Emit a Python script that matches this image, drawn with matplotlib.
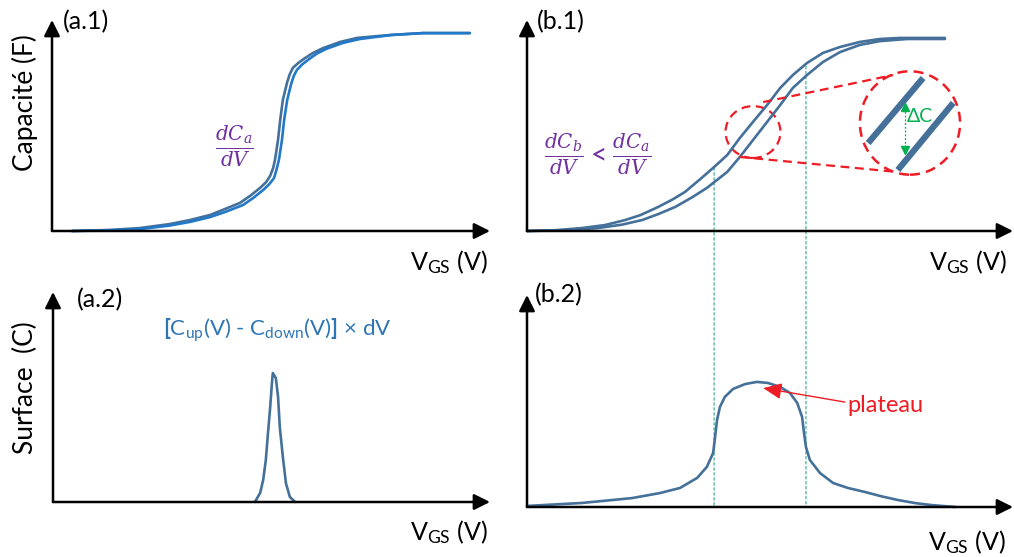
import matplotlib
matplotlib.use("Agg")
import matplotlib.pyplot as plt
from matplotlib.patches import Ellipse, ConnectionPatch

plt.rcParams['font.family'] = ['Lato', 'DejaVu Sans']
plt.rcParams['mathtext.fontset'] = 'custom'
plt.rcParams['mathtext.rm'] = 'Lato'
plt.rcParams['mathtext.it'] = 'DejaVu Serif:italic'
plt.rcParams['mathtext.bf'] = 'Lato:bold'

# ---------------- data (V in 0..10 arbitrary, C / surface in 0..1 arbitrary) -------------
# (a.1) narrow hysteresis C-V curves
a1_up_v = [0.46, 1.32, 2.01, 2.69, 3.15, 3.61, 3.90, 4.29, 4.52, 4.75, 4.89, 4.98, 5.05, 5.09, 5.16, 5.21,
           5.27, 5.37, 5.43, 5.50, 5.62, 5.78, 5.96, 6.19, 6.58, 6.96, 7.72, 8.47, 9.54]
a1_up_c = [0.0, 0.005, 0.014, 0.033, 0.052, 0.076, 0.100, 0.133, 0.166, 0.204, 0.232, 0.261, 0.299, 0.336,
           0.431, 0.526, 0.621, 0.706, 0.744, 0.773, 0.796, 0.820, 0.844, 0.867, 0.896, 0.915, 0.929, 0.938, 0.938]
a1_dn_v = [0.46, 1.32, 2.01, 2.69, 3.15, 3.61, 3.95, 4.36, 4.59, 4.82, 4.96, 5.07, 5.13, 5.18, 5.25, 5.30,
           5.37, 5.46, 5.52, 5.59, 5.71, 5.87, 6.04, 6.26, 6.65, 7.03, 7.76, 8.47, 9.54]
a1_dn_c = [0.0, 0.003, 0.009, 0.026, 0.043, 0.066, 0.090, 0.123, 0.156, 0.194, 0.222, 0.251, 0.294, 0.336,
           0.431, 0.526, 0.621, 0.697, 0.735, 0.763, 0.789, 0.815, 0.840, 0.863, 0.892, 0.910, 0.929, 0.938, 0.938]

# (a.2) narrow surface peak
a2_v = [4.62, 4.74, 4.81, 4.87, 4.92, 4.97, 5.01, 5.03, 5.10, 5.15, 5.19, 5.26, 5.33, 5.42, 5.54]
a2_s = [0.0, 0.043, 0.105, 0.200, 0.329, 0.452, 0.567, 0.614, 0.590, 0.500, 0.357, 0.214, 0.090, 0.024, 0.0]

# (b.1) wide hysteresis C-V curves
b1_up_v = [0.0, 0.60, 1.13, 1.60, 2.02, 2.33, 2.70, 3.00, 3.25, 3.56, 3.83, 4.12, 4.38, 4.65, 4.94, 5.21,
           5.47, 5.76, 6.09, 6.44, 6.85, 7.26, 7.67, 8.09, 8.60]
b1_up_c = [0.0, 0.004, 0.014, 0.028, 0.052, 0.075, 0.114, 0.150, 0.185, 0.245, 0.299, 0.360, 0.441, 0.517,
           0.597, 0.678, 0.739, 0.796, 0.844, 0.872, 0.896, 0.910, 0.915, 0.915, 0.915]
b1_dn_v = [0.0, 0.80, 1.46, 1.95, 2.37, 2.70, 3.05, 3.40, 3.70, 4.12, 4.38, 4.65, 4.94, 5.21, 5.47, 5.76,
           6.09, 6.44, 6.85, 7.26, 7.82, 8.60]
b1_dn_c = [0.0, 0.004, 0.014, 0.030, 0.052, 0.080, 0.114, 0.160, 0.204, 0.280, 0.351, 0.431, 0.517, 0.597,
           0.678, 0.739, 0.801, 0.848, 0.882, 0.900, 0.910, 0.910]

# (b.2) surface with plateau
b2_v = [0.0, 1.13, 2.16, 2.74, 3.15, 3.50, 3.70, 3.83, 3.87, 3.91, 3.97, 4.07, 4.24, 4.49, 4.73, 4.96,
        5.21, 5.41, 5.56, 5.66, 5.70, 5.74, 5.82, 6.03, 6.30, 6.60, 6.95, 7.30, 7.63, 8.00, 8.33, 8.81]
b2_s = [0.005, 0.019, 0.042, 0.066, 0.090, 0.137, 0.189, 0.255, 0.330, 0.410, 0.472, 0.519, 0.557, 0.580,
        0.590, 0.585, 0.566, 0.538, 0.491, 0.425, 0.349, 0.283, 0.222, 0.160, 0.113, 0.090, 0.071, 0.050,
        0.033, 0.018, 0.009, 0.0]

# guide lines (V position, top C on b.1)
guide_v = [3.85, 5.74]
guide_top = [0.30, 0.78]

# zoom inset elements (b.1 data units)
seg1_v, seg1_c = [7.02, 8.15], [0.417, 0.725]
seg2_v, seg2_c = [7.63, 8.77], [0.289, 0.607]

# ---------------- styling -------------------------------------------------------------
W, H = 1014, 557
DARK = '#44709a'
BRIGHT = '#2279c9'
RED = '#ee1c25'
GREEN = '#00b050'
GUIDE = '#3fb39a'
PURPLE = '#7030a0'
BLUE_TXT = '#2e75b6'

fig = plt.figure(figsize=(W / 100, H / 100), dpi=100)


def box(x0, ybot, x1, ytop):
    return [x0 / W, (H - ybot) / H, (x1 - x0) / W, (ybot - ytop) / H]


def make_ax(b):
    ax = fig.add_axes(b)
    ax.set_xlim(0, 10)
    ax.set_ylim(0, 1)
    ax.axis('off')
    ap = dict(arrowstyle='-|>,head_length=0.6,head_width=0.3', lw=1.8, color='k',
              shrinkA=0, shrinkB=0, mutation_scale=16)
    ax.annotate('', xy=(1, 0), xytext=(0, 0), xycoords='axes fraction', arrowprops=ap)
    ax.annotate('', xy=(0, 1), xytext=(0, 0), xycoords='axes fraction', arrowprops=ap)
    return ax


ax_a1 = make_ax(box(52, 231, 490, 20))
ax_a2 = make_ax(box(53, 502, 490, 292))
ax_b1 = make_ax(box(527, 231, 1013, 20))
ax_b2 = make_ax(box(527, 507, 1013, 295))

LW = 1.9
kw = dict(lw=LW, clip_on=False, solid_capstyle='round', solid_joinstyle='round')
ax_a1.plot(a1_up_v, a1_up_c, color=DARK, **kw)
ax_a1.plot(a1_dn_v, a1_dn_c, color=BRIGHT, **kw)
ax_a2.plot(a2_v, a2_s, color=DARK, **kw)
ax_b1.plot(b1_up_v, b1_up_c, color=DARK, **kw)
ax_b1.plot(b1_dn_v, b1_dn_c, color=DARK, **kw)
ax_b2.plot(b2_v, b2_s, color=DARK, **kw)

# guide lines from b.1 to b.2
for v, top in zip(guide_v, guide_top):
    cp = ConnectionPatch(xyA=(v, top), coordsA=ax_b1.transData,
                         xyB=(v, 0), coordsB=ax_b2.transData,
                         color=GUIDE, lw=0.9, linestyle=(0, (2, 2)), zorder=0)
    fig.add_artist(cp)

# zoom ellipse / circle
dash = (0, (4, 2.5))
ax_b1.add_patch(Ellipse((4.65, 0.469), 1.13, 0.246, fill=False, ec=RED, lw=1.6,
                        linestyle=dash, clip_on=False))
ax_b1.add_patch(Ellipse((7.88, 0.512), 2.06, 0.49, fill=False, ec=RED, lw=1.8,
                        linestyle=dash, clip_on=False))
ax_b1.plot([4.86, 7.53], [0.611, 0.739], color=RED, lw=1.6, linestyle=dash)
ax_b1.plot([4.38, 7.61], [0.351, 0.280], color=RED, lw=1.6, linestyle=dash)
ax_b1.plot(seg1_v, seg1_c, color=DARK, lw=4.5, solid_capstyle='butt')
ax_b1.plot(seg2_v, seg2_c, color=DARK, lw=4.5, solid_capstyle='butt')
ax_b1.plot([7.78, 7.78], [0.40, 0.57], color=GREEN, lw=0.9, linestyle=(0, (1.5, 1.5)))
ax_b1.plot([7.78], [0.587], marker='^', color=GREEN, ms=5.5, mec=GREEN)
ax_b1.plot([7.78], [0.382], marker='v', color=GREEN, ms=5.5, mec=GREEN)
ax_b1.text(7.82, 0.545, 'ΔC', color=GREEN, fontsize=14, va='center', ha='left',
           family=['Lato', 'DejaVu Sans'])

# plateau arrow
ax_b2.annotate('', xy=(4.86, 0.561), xytext=(6.54, 0.495),
               arrowprops=dict(arrowstyle='-|>,head_length=0.8,head_width=0.35', color=RED,
                               lw=1.0, shrinkA=0, shrinkB=0, mutation_scale=14))


def ftext(x, y, s, **kw):
    fig.text(x / W, 1 - y / H, s, **kw)


# panel labels
ftext(63, 22, '(a.1)', fontsize=18, va='center', ha='left')
ftext(537, 22, '(b.1)', fontsize=18, va='center', ha='left')
ftext(77, 300, '(a.2)', fontsize=18, va='center', ha='left')
ftext(535, 295, '(b.2)', fontsize=18, va='center', ha='left')

# axis labels
ftext(25, 103, 'Capacité (F)', fontsize=19, rotation=90, va='center', ha='center')
ftext(25, 388, 'Surface  (C)', fontsize=19, rotation=90, va='center', ha='center')
vgs = r'V$_{\mathrm{GS}}$ (V)'
ftext(488, 270, vgs, fontsize=18, ha='right', va='baseline')
ftext(1007, 270, vgs, fontsize=18, ha='right', va='baseline')
ftext(488, 540, vgs, fontsize=18, ha='right', va='baseline')
ftext(1006, 550, vgs, fontsize=18, ha='right', va='baseline')

# formulas
ftext(234, 147, r'$\frac{dC_a}{dV}$', fontsize=20.5, color=PURPLE, ha='center', va='center')
ftext(598, 155, r'$\frac{dC_b}{dV}<\frac{dC_a}{dV}$', fontsize=20.5, color=PURPLE,
      ha='center', va='center')
ftext(277, 330, r'$\mathbf{[}$C$_{\mathrm{up}}$(V) - C$_{\mathrm{down}}$(V)$\mathbf{]}$ × dV',
      fontsize=16, color=BLUE_TXT, ha='center', va='center')
ftext(847, 405, 'plateau', fontsize=17, color=RED, ha='left', va='center')

fig.savefig('out.png', dpi=100)
